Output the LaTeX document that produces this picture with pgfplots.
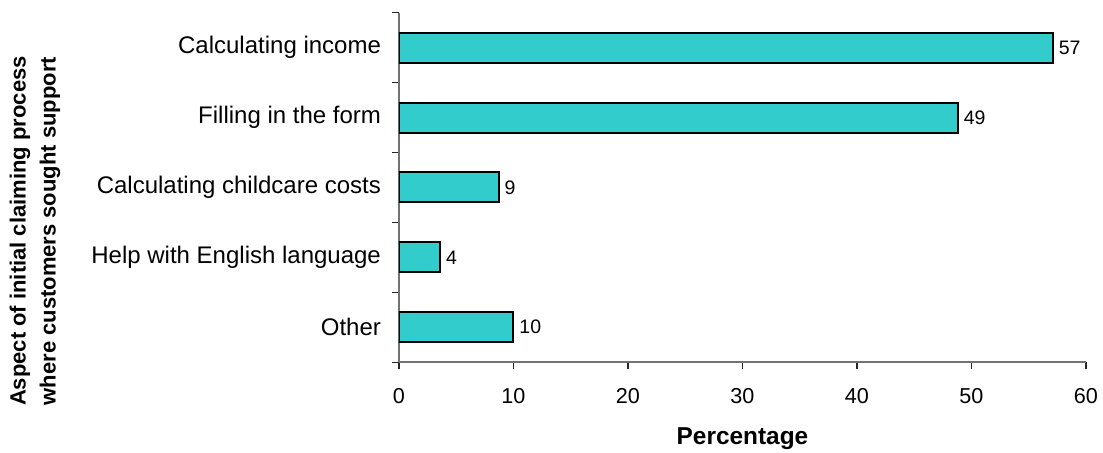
\documentclass[border=0pt]{standalone}
\usepackage{pgfplots}
\pgfplotsset{compat=1.18}
\usepackage{fontspec}
\setmainfont{Liberation Sans}
\definecolor{barfill}{HTML}{33CCCC}
\begin{document}
\begin{tikzpicture}
\path[use as bounding box] (-199.5pt,-45pt) rectangle (352pt,181.05pt);
\begin{axis}[
  at={(0,0)}, anchor=south west,
  scale only axis,
  width=343.5pt, height=174.7pt,
  xbar,
  xmin=0, xmax=60,
  ymin=-0.5, ymax=4.5,
  y dir=reverse,
  axis x line*=bottom,
  axis y line*=left,
  axis line style={black!55, line width=1pt},
  every tick/.style={black!85, line width=0.6pt},
  xtick={0,10,...,60},
  ytick={0,1,2,3,4},
  yticklabels={Calculating income,Filling in the form,Calculating childcare costs,Help with English language,Other},
  major y tick style={draw=none},
  minor ytick={-0.5,0.5,1.5,2.5,3.5,4.5},
  minor tick length=3.5pt,
  major tick length=3.5pt,
  tick align=outside,
  /pgf/number format/assume math mode=true,
  yticklabel style={font=\fontsize{12}{14}\selectfont, xshift=-2pt},
  xticklabel style={font=\fontsize{10.8}{13}\selectfont, yshift=-6pt},
  bar width=0.43,
  nodes near coords,
  point meta=x,
  every node near coord/.append style={font=\fontsize{9.75}{11}\selectfont, /pgf/number format/fixed, /pgf/number format/precision=0, inner sep=2.5pt},
  xlabel={Percentage},
  xlabel style={at={(rel axis cs:0.5,-0.218)}, anchor=center, font=\fontsize{12.2}{14}\bfseries},
  ylabel={Aspect of initial claiming process\\where customers sought support},
  ylabel style={at={(rel axis cs:-0.530,0.375)}, anchor=center, align=center, font=\fontsize{11}{15}\bfseries},
]
\addplot[fill=barfill, draw=black, line width=1pt] coordinates {
  (57.1,0) (48.8,1) (8.7,2) (3.6,3) (10.0,4)
};
\end{axis}
\end{tikzpicture}
\end{document}
